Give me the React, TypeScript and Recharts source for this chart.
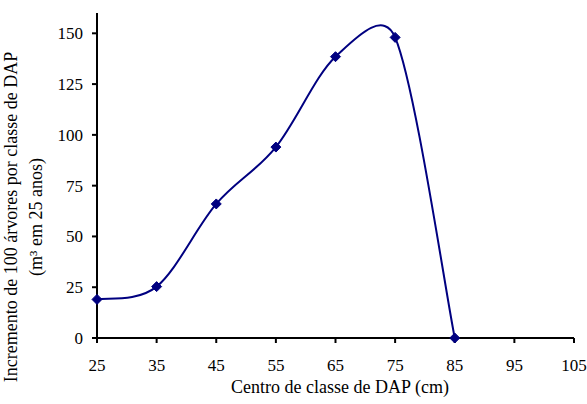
import React from "react";
import { Line, LineChart, XAxis, YAxis } from "recharts";

const dapClasses = [25, 35, 45, 55, 65, 75, 85];
const increments = [19, 25.3, 66, 94, 138.5, 148, 0];
const xTicks = [25, 35, 45, 55, 65, 75, 85, 95, 105];
const yTicks = [0, 25, 50, 75, 100, 125, 150];

const data = dapClasses.map((x, i) => ({ x, y: increments[i] }));

const font = "'Liberation Serif', 'Times New Roman', serif";

const dist = (a: number[], b: number[]) => Math.hypot(a[0] - b[0], a[1] - b[1]);

// smoothed line like Excel: Catmull-Rom tangents, control arm capped at half the segment
const smoothCurve = (context: any) => {
  let pts: [number, number][] = [];
  return {
    areaStart() {},
    areaEnd() {},
    lineStart() {
      pts = [];
    },
    lineEnd() {
      const n = pts.length;
      if (!n) return;
      context.moveTo(pts[0][0], pts[0][1]);
      for (let i = 0; i < n - 1; i++) {
        const p0 = pts[Math.max(i - 1, 0)];
        const p1 = pts[i];
        const p2 = pts[i + 1];
        const p3 = pts[Math.min(i + 2, n - 1)];
        const half = dist(p1, p2) / 2;
        const d02 = dist(p0, p2) || 1;
        const d13 = dist(p1, p3) || 1;
        const f1 = Math.min(1 / 6, half / d02);
        const f2 = Math.min(1 / 6, half / d13);
        context.bezierCurveTo(
          p1[0] + (p2[0] - p0[0]) * f1,
          p1[1] + (p2[1] - p0[1]) * f1,
          p2[0] - (p3[0] - p1[0]) * f2,
          p2[1] - (p3[1] - p1[1]) * f2,
          p2[0],
          p2[1]
        );
      }
    },
    point(x: number, y: number) {
      pts.push([+x, +y]);
    },
  };
};

const Diamond = (props: any) => {
  const { cx, cy, index } = props;
  if (cx == null || cy == null) return null;
  const r = 5;
  return (
    <polygon
      key={index}
      points={`${cx},${cy - r} ${cx + r},${cy} ${cx},${cy + r} ${cx - r},${cy}`}
      fill="#000080"
      stroke="#000080"
    />
  );
};

export default function App() {
  return (
    <div style={{ position: "absolute", left: 0, top: 0, width: 587, height: 404, background: "#fff" }}>
      <LineChart
        width={587}
        height={404}
        data={data}
        margin={{ top: 13, right: 13, bottom: 26, left: 0 }}
      >
        <XAxis
          dataKey="x"
          type="number"
          domain={[25, 105]}
          ticks={xTicks}
          height={40}
          tickSize={5}
          tickMargin={16}
          axisLine={{ stroke: "#000", strokeWidth: 2 }}
          tickLine={{ stroke: "#000", strokeWidth: 2 }}
          tick={{ fill: "#000", fontSize: 17, fontFamily: font }}
        />
        <YAxis
          type="number"
          domain={[0, 160]}
          ticks={yTicks}
          width={97}
          tickSize={5}
          tickMargin={9}
          axisLine={{ stroke: "#000", strokeWidth: 2 }}
          tickLine={{ stroke: "#000", strokeWidth: 2 }}
          tick={{ fill: "#000", fontSize: 17, fontFamily: font }}
        />
        <Line
          dataKey="y"
          type={smoothCurve as any}
          stroke="#000080"
          strokeWidth={2}
          dot={<Diamond />}
          activeDot={false}
          isAnimationActive={false}
        />
        <text x={340} y={393} textAnchor="middle" fontSize={18} fontFamily={font} fill="#000">
          Centro de classe de DAP (cm)
        </text>
        <text
          x={17}
          y={217}
          textAnchor="middle"
          fontSize={18}
          fontFamily={font}
          fill="#000"
          transform="rotate(-90, 17, 217)"
        >
          Incremento de 100 árvores por classe de DAP
        </text>
        <text
          x={42}
          y={217}
          textAnchor="middle"
          fontSize={18}
          fontFamily={font}
          fill="#000"
          transform="rotate(-90, 42, 217)"
        >
          (m³ em 25 anos)
        </text>
      </LineChart>
    </div>
  );
}
